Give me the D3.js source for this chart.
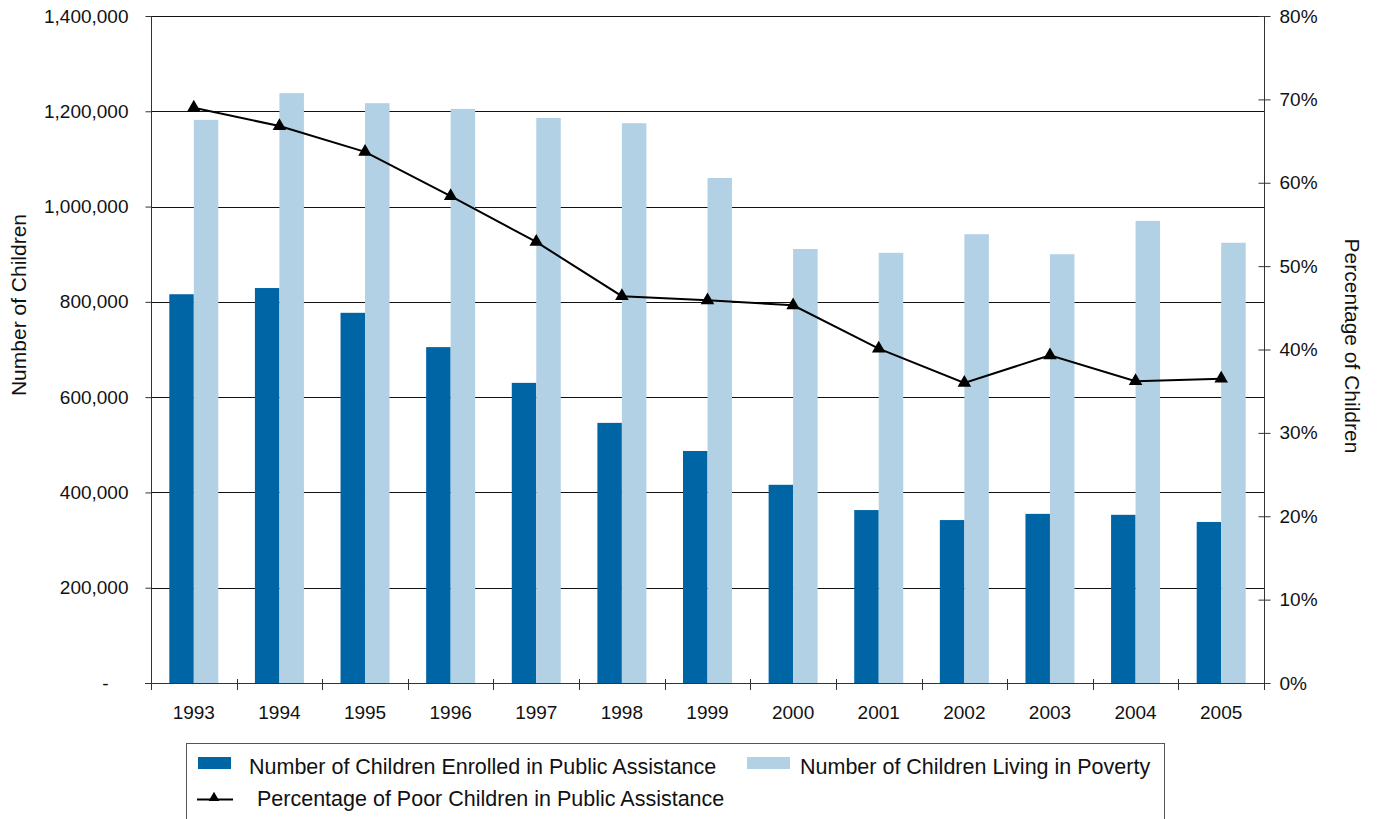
<!DOCTYPE html>
<html>
<head>
<meta charset="utf-8">
<script src="https://cdn.jsdelivr.net/npm/d3@7"></script>
<style>
  html, body { margin: 0; padding: 0; background: #fff; }
  svg { display: block; font-family: "Liberation Sans", Arial, sans-serif; }
</style>
</head>
<body>
<svg id="chart" width="1378" height="819"></svg>
<script>
// Children in public assistance vs. children living in poverty, 1993–2005
const years = ["1993","1994","1995","1996","1997","1998","1999","2000","2001","2002","2003","2004","2005"];
const enrolled = [816000, 829000, 777000, 705000, 630000, 546000, 487000, 416000, 363000, 342000, 355000, 353000, 338000];
const poverty = [1182000, 1238000, 1217000, 1205000, 1186000, 1175000, 1060000, 911000, 903000, 942000, 900000, 970000, 924000];
const pctInAssistance = [0.690, 0.668, 0.637, 0.584, 0.529, 0.464, 0.459, 0.453, 0.401, 0.360, 0.393, 0.362, 0.365];
const countTicks = [0, 200000, 400000, 600000, 800000, 1000000, 1200000, 1400000];
const pctTicks = [0, 0.1, 0.2, 0.3, 0.4, 0.5, 0.6, 0.7, 0.8];
const seriesNames = [
  "Number of Children Enrolled in Public Assistance",
  "Number of Children Living in Poverty",
  "Percentage of Poor Children in Public Assistance"
];

const DARK = "#0065a5", LIGHT = "#b3d1e5", INK = "#000";
const TICK_FS = 19, LABEL_FS = 21, LEGEND_FS = 21.5;
const svg = d3.select("#chart");
const plotL = 151, plotR = 1264, plotT = 16, plotB = 683;

const x = d3.scaleBand().domain(years).range([plotL, plotR]).paddingInner(0).paddingOuter(0);
const yCount = d3.scaleLinear().domain([0, 1400000]).range([plotB, plotT]);
const yPct = d3.scaleLinear().domain([0, 0.8]).range([plotB, plotT]);
const barW = 24.5;

// horizontal gridlines at the count ticks
svg.append("g").selectAll("line").data(countTicks.slice(1)).join("line")
  .attr("x1", plotL).attr("x2", plotR)
  .attr("y1", d => Math.round(yCount(d)) + 0.5).attr("y2", d => Math.round(yCount(d)) + 0.5)
  .attr("stroke", "#111").attr("stroke-width", 1);

// bars
const g = svg.append("g");
g.selectAll("rect.enr").data(years).join("rect")
  .attr("class", "enr")
  .attr("x", d => x(d) + x.bandwidth() / 2 - barW)
  .attr("y", (d, i) => yCount(enrolled[i]))
  .attr("width", barW)
  .attr("height", (d, i) => plotB - yCount(enrolled[i]))
  .attr("fill", DARK);
g.selectAll("rect.pov").data(years).join("rect")
  .attr("class", "pov")
  .attr("x", d => x(d) + x.bandwidth() / 2)
  .attr("y", (d, i) => yCount(poverty[i]))
  .attr("width", barW)
  .attr("height", (d, i) => plotB - yCount(poverty[i]))
  .attr("fill", LIGHT);

// left axis
const fmtCount = d => d === 0 ? "-" : d3.format(",")(d);
const yAxisL = d3.axisLeft(yCount).tickValues(countTicks).tickFormat(fmtCount).tickSize(6).tickPadding(17);
const gl = svg.append("g").attr("transform", `translate(${plotL + 0.5},0)`).call(yAxisL);
gl.select(".domain").attr("stroke", "#333").attr("d", `M0,${plotT}V${plotB}`);
gl.selectAll(".tick line").attr("stroke", "#333");
gl.selectAll(".tick text").attr("font-size", TICK_FS).attr("fill", "#111")
  .attr("font-family", "Liberation Sans, Arial, sans-serif");
gl.selectAll(".tick").filter(d => d === 0).select("text").attr("dx", -20);

// right axis
const yAxisR = d3.axisRight(yPct).tickValues(pctTicks).tickFormat(d3.format(".0%")).tickSize(6).tickPadding(9);
const gr = svg.append("g").attr("transform", `translate(${plotR + 0.5},0)`).call(yAxisR);
gr.select(".domain").attr("stroke", "#333").attr("d", `M0,${plotT}V${plotB}`);
gr.selectAll(".tick line").attr("stroke", "#333").attr("x1", -6).attr("x2", 6);
gr.selectAll(".tick text").attr("font-size", TICK_FS).attr("fill", "#111")
  .attr("font-family", "Liberation Sans, Arial, sans-serif");

// bottom axis: ticks on category boundaries
const gb = svg.append("g");
gb.append("line").attr("x1", plotL - 6).attr("x2", plotR)
  .attr("y1", plotB + 0.5).attr("y2", plotB + 0.5).attr("stroke", "#333");
const bounds = years.map(d => x(d)).concat([plotR]);
gb.selectAll("line.tk").data(bounds).join("line")
  .attr("class", "tk")
  .attr("x1", d => Math.round(d) + 0.5).attr("x2", d => Math.round(d) + 0.5)
  .attr("y1", plotB - 4).attr("y2", plotB + 7).attr("stroke", "#333");
gb.selectAll("text").data(years).join("text")
  .attr("x", d => x(d) + x.bandwidth() / 2)
  .attr("y", 719)
  .attr("text-anchor", "middle").attr("font-size", TICK_FS).attr("fill", "#111")
  .text(d => d);

// percentage line with triangle markers
const line = d3.line().x((d, i) => x(years[i]) + x.bandwidth() / 2).y(d => yPct(d));
svg.append("path").datum(pctInAssistance).attr("d", line)
  .attr("fill", "none").attr("stroke", INK).attr("stroke-width", 2);
const tri = d3.symbol().type(d3.symbolTriangle).size(80);
svg.append("g").selectAll("path").data(pctInAssistance).join("path")
  .attr("d", tri)
  .attr("transform", (d, i) => `translate(${x(years[i]) + x.bandwidth() / 2},${yPct(d)})`)
  .attr("fill", INK);

// axis titles
svg.append("text").attr("transform", "translate(26,305) rotate(-90)")
  .attr("text-anchor", "middle").attr("font-size", LABEL_FS).attr("fill", "#111").text("Number of Children");
svg.append("text").attr("transform", "translate(1345,346) rotate(90)")
  .attr("text-anchor", "middle").attr("font-size", LABEL_FS).attr("fill", "#111").text("Percentage of Children");

// legend
const lg = svg.append("g");
lg.append("rect").attr("x", 186.5).attr("y", 743.5).attr("width", 978).attr("height", 90)
  .attr("fill", "#fff").attr("stroke", "#555").attr("stroke-width", 1);
lg.append("rect").attr("x", 198).attr("y", 757).attr("width", 33).attr("height", 12).attr("fill", DARK);
lg.append("text").attr("x", 249).attr("y", 774).attr("font-size", LEGEND_FS).attr("fill", "#111").text(seriesNames[0]);
lg.append("rect").attr("x", 747).attr("y", 757).attr("width", 43).attr("height", 12).attr("fill", LIGHT);
lg.append("text").attr("x", 800).attr("y", 774).attr("font-size", LEGEND_FS).attr("fill", "#111").text(seriesNames[1]);
lg.append("line").attr("x1", 197).attr("x2", 233).attr("y1", 799.5).attr("y2", 799.5)
  .attr("stroke", INK).attr("stroke-width", 2);
lg.append("path").attr("d", d3.symbol().type(d3.symbolTriangle).size(50)())
  .attr("transform", "translate(214,798)").attr("fill", INK);
lg.append("text").attr("x", 257).attr("y", 806).attr("font-size", LEGEND_FS).attr("fill", "#111").text(seriesNames[2]);
</script>
</body>
</html>
